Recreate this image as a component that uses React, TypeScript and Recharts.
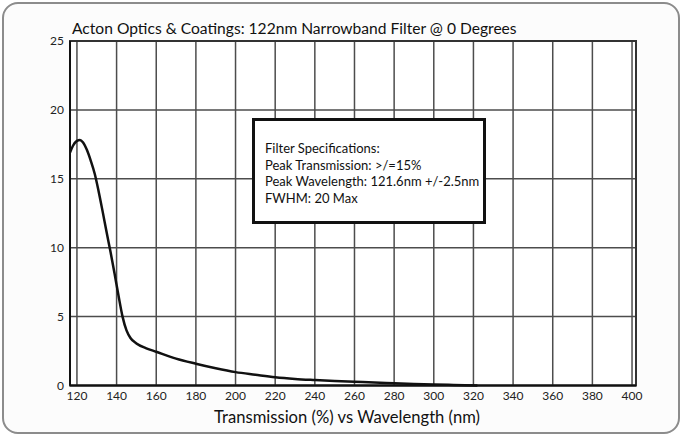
import React from 'react';
import { LineChart, Line, XAxis, YAxis, CartesianGrid, ReferenceArea } from 'recharts';

const wavelengths = [116.5, 118, 120, 121.5, 123, 125, 127, 129, 131, 133, 135, 137, 139, 141, 143, 145, 147, 150, 155, 160, 170, 180, 190, 200, 210, 220, 230, 240, 250, 260, 270, 280, 290, 300, 310, 322];
const transmission = [16.9, 17.4, 17.75, 17.82, 17.65, 17.1, 16.3, 15.35, 14.05, 12.6, 11.1, 9.65, 8.1, 6.5, 5.0, 4.0, 3.45, 3.05, 2.7, 2.45, 1.95, 1.58, 1.25, 0.97, 0.78, 0.6, 0.48, 0.4, 0.33, 0.27, 0.22, 0.16, 0.11, 0.07, 0.04, 0.0];
const xTicks = [120, 140, 160, 180, 200, 220, 240, 260, 280, 300, 320, 340, 360, 380, 400];
const yTicks = [0, 5, 10, 15, 20, 25];
const xDomain = [116.5, 402];
const yDomain = [0, 25];
const title = 'Acton Optics & Coatings: 122nm Narrowband Filter @ 0 Degrees';
const xLabel = 'Transmission (%) vs Wavelength (nm)';
const specLines = [
  'Filter Specifications:',
  'Peak Transmission: >/=15%',
  'Peak Wavelength: 121.6nm +/-2.5nm',
  'FWHM: 20 Max',
];

const data = wavelengths.map((w, i) => ({ w, t: transmission[i] }));

const FONT = 'Lato, "Open Sans", "Liberation Sans", sans-serif';

export default function App() {
  return (
    <div style={{ position: 'absolute', left: 0, top: 0, width: 682, height: 436, background: '#fff', fontFamily: FONT }}>
      <div style={{ position: 'absolute', left: 2, top: 2, width: 674, height: 428, border: '2px solid #8c8c8c', borderRadius: 16, background: '#fcfcfc' }} />
      <div style={{ position: 'absolute', left: 0, top: 0 }}>
        <LineChart width={682} height={436} data={data} margin={{ top: 41, right: 46, bottom: 0, left: 0 }}>
          <CartesianGrid stroke="#4d4d4d" strokeWidth={1.5} fill="#ffffff" fillOpacity={1} />
          <ReferenceArea x1={xDomain[0]} x2={xDomain[1]} y1={yDomain[0]} y2={yDomain[1]} fill="none" fillOpacity={0} stroke="#333" strokeWidth={2} ifOverflow="visible" />
          <XAxis
            type="number"
            dataKey="w"
            domain={xDomain}
            ticks={xTicks}
            allowDataOverflow
            height={50.5}
            tickSize={0}
            tickMargin={6}
            tickLine={false}
            axisLine={{ stroke: '#111', strokeWidth: 2 }}
            tick={{ fill: '#222', fontSize: 12, fontFamily: FONT }}
          />
          <YAxis
            type="number"
            domain={yDomain}
            ticks={yTicks}
            width={70}
            tickSize={0}
            tickMargin={6}
            tickLine={false}
            axisLine={{ stroke: '#111', strokeWidth: 2 }}
            tick={{ fill: '#222', fontSize: 12, fontFamily: FONT }}
          />
          <Line type="monotone" dataKey="t" stroke="#111" strokeWidth={2.5} dot={false} isAnimationActive={false} />
        </LineChart>
      </div>
      <div style={{ position: 'absolute', left: 72, top: 19, fontSize: 15.6, lineHeight: '18px', color: '#111', whiteSpace: 'nowrap' }}>{title}</div>
      <div style={{ position: 'absolute', left: 64, width: 566, top: 407, fontSize: 16.6, lineHeight: '20px', color: '#111', textAlign: 'center', whiteSpace: 'nowrap' }}>{xLabel}</div>
      <div style={{ position: 'absolute', left: 252, top: 118, width: 228, height: 100, border: '3px solid #111', background: '#fff', boxSizing: 'content-box' }}>
        <div style={{ position: 'absolute', left: 10, top: 19, fontSize: 13, lineHeight: '16.7px', color: '#111', whiteSpace: 'nowrap' }}>
          {specLines.map((s, i) => (
            <div key={i}>{s}</div>
          ))}
        </div>
      </div>
    </div>
  );
}
